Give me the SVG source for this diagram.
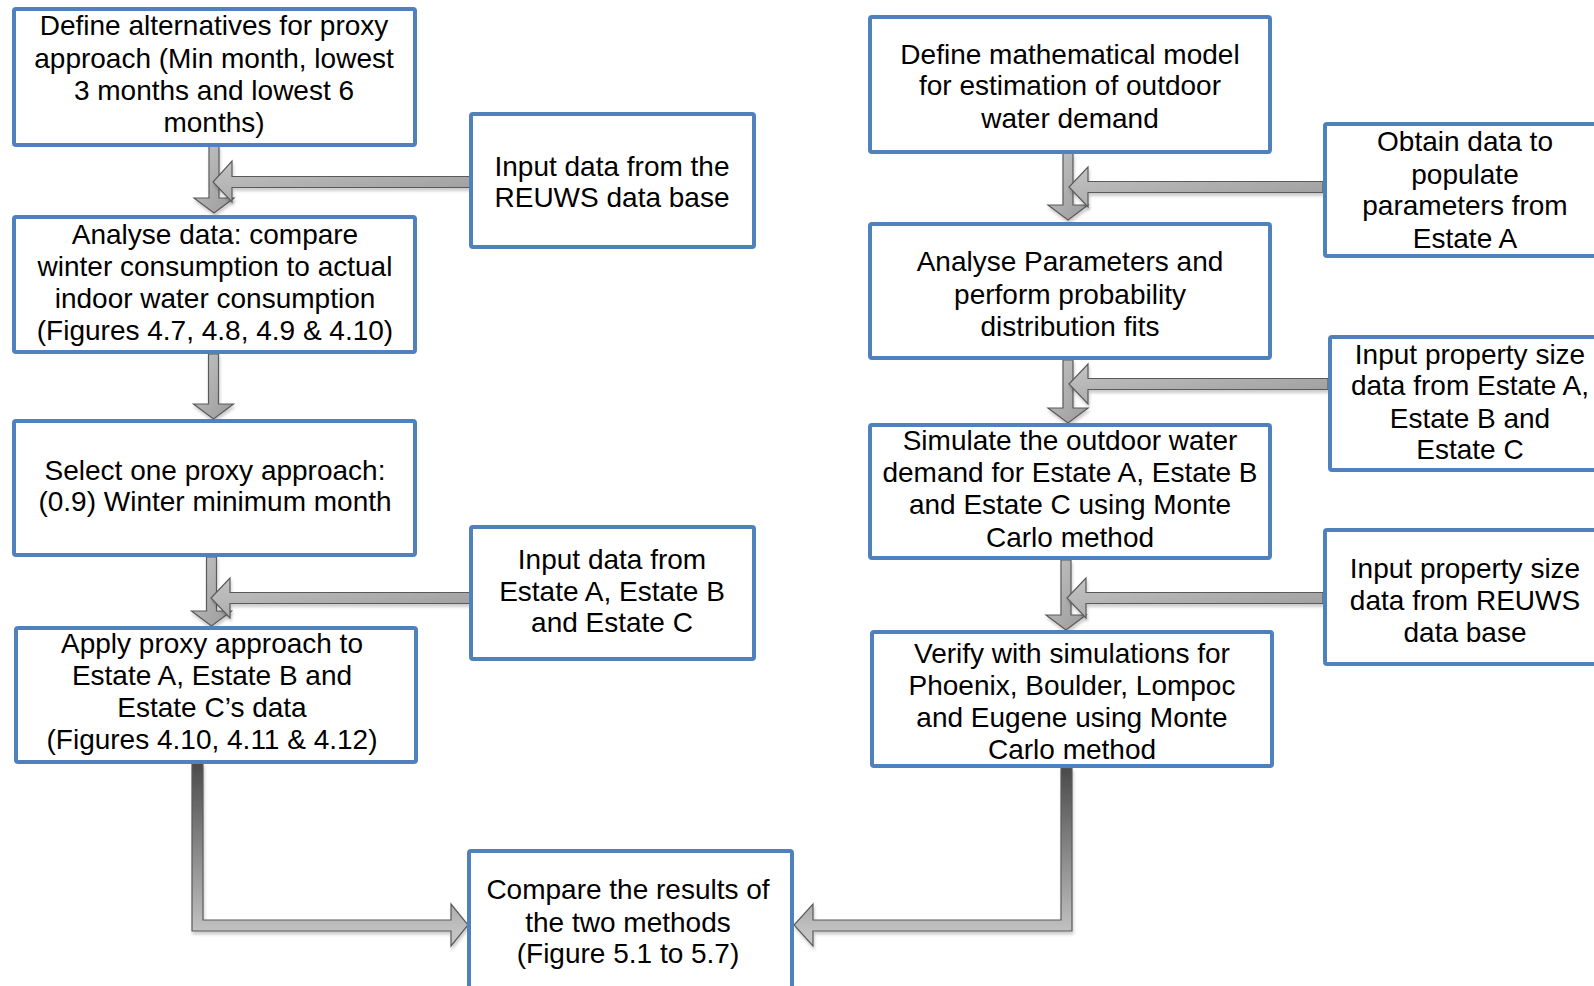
<svg xmlns="http://www.w3.org/2000/svg" width="1594" height="986" viewBox="0 0 1594 986">
<style>
.box{fill:#ffffff;stroke:#4f81bd;stroke-width:4}
.t{font-family:"Liberation Sans",Arial,sans-serif;font-size:28px;fill:#000;text-anchor:middle}
.arr{fill:url(#ga);stroke:#5a5a5a;stroke-width:1.2;stroke-linejoin:miter;filter:url(#sh)}
.bent{stroke:#5a5a5a;stroke-width:1.2;filter:url(#sh)}
</style>
<defs>
<linearGradient id="ga" x1="0" y1="0" x2="1" y2="1">
<stop offset="0" stop-color="#c4c4c4"/>
<stop offset="1" stop-color="#9a9a9a"/>
</linearGradient>
<linearGradient id="gb" gradientUnits="userSpaceOnUse" x1="0" y1="762" x2="0" y2="935">
<stop offset="0" stop-color="#4a4a4a"/>
<stop offset="1" stop-color="#c4c4c4"/>
</linearGradient>
<linearGradient id="gc" gradientUnits="userSpaceOnUse" x1="0" y1="768" x2="0" y2="935">
<stop offset="0" stop-color="#4a4a4a"/>
<stop offset="1" stop-color="#c4c4c4"/>
</linearGradient>
<filter id="sh" x="-20%" y="-20%" width="140%" height="140%">
<feDropShadow dx="1" dy="3" stdDeviation="1.5" flood-color="#000" flood-opacity="0.2"/>
</filter>
</defs>

<g id="connectors">
<polygon class="arr" points="209,146 219,146 219,198 234,198 214,213 194,198 209,198"/>
<polygon class="arr" points="470,176.5 232,176.5 232,161 213,182 232,202 232,187.5 470,187.5"/>
<polygon class="arr" points="208.5,354 218.5,354 218.5,404 233.5,404 213.5,419 193.5,404 208.5,404"/>
<polygon class="arr" points="206.5,557 216.5,557 216.5,611 231.5,611 211.5,626 191.5,611 206.5,611"/>
<polygon class="arr" points="470,592.5 230,592.5 230,578 211,598 230,618 230,603.5 470,603.5"/>
<polygon class="arr" points="1063,153 1073,153 1073,205 1088,205 1068,220 1048,205 1063,205"/>
<polygon class="arr" points="1323,181.5 1088,181.5 1088,167 1069,187 1088,207 1088,192.5 1323,192.5"/>
<polygon class="arr" points="1063,360 1073,360 1073,408 1088,408 1068,423 1048,408 1063,408"/>
<polygon class="arr" points="1328,378.5 1088,378.5 1088,364 1069,384 1088,404 1088,389.5 1328,389.5"/>
<polygon class="arr" points="1061,560 1071,560 1071,615 1086,615 1066,630 1046,615 1061,615"/>
<polygon class="arr" points="1323,592.5 1086,592.5 1086,578 1067,598 1086,618 1086,603.5 1323,603.5"/>
<polygon class="bent" fill="url(#gb)" points="192,763 203,763 203,920 451,920 451,904 468,925 451,946 451,931 192,931"/>
<polygon class="bent" fill="url(#gc)" points="1061,768 1072,768 1072,931 813,931 813,946 794,925 813,904 813,920 1061,920"/>
</g>

<g id="n1">
<rect class="box" x="14" y="9" width="401" height="136" rx="2"/>
<text class="t" x="214" y="35">Define alternatives for proxy</text>
<text class="t" x="214" y="68">approach (Min month, lowest</text>
<text class="t" x="214" y="100">3 months and lowest 6</text>
<text class="t" x="214" y="132">months)</text>
</g>
<g id="n2">
<rect class="box" x="471" y="114" width="283" height="133" rx="2"/>
<text class="t" x="612" y="176">Input data from the</text>
<text class="t" x="612" y="207">REUWS data base</text>
</g>
<g id="n3">
<rect class="box" x="14" y="217" width="401" height="135" rx="2"/>
<text class="t" x="215" y="244">Analyse data: compare</text>
<text class="t" x="215" y="276">winter consumption to actual</text>
<text class="t" x="215" y="308">indoor water consumption</text>
<text class="t" x="215" y="340">(Figures 4.7, 4.8, 4.9 &amp; 4.10)</text>
</g>
<g id="n4">
<rect class="box" x="14" y="421" width="401" height="134" rx="2"/>
<text class="t" x="215" y="480">Select one proxy approach:</text>
<text class="t" x="215" y="511">(0.9) Winter minimum month</text>
</g>
<g id="n5">
<rect class="box" x="471" y="527" width="283" height="132" rx="2"/>
<text class="t" x="612" y="569">Input data from</text>
<text class="t" x="612" y="601">Estate A, Estate B</text>
<text class="t" x="612" y="632">and Estate C</text>
</g>
<g id="n6">
<rect class="box" x="16" y="628" width="400" height="134" rx="2"/>
<text class="t" x="212" y="653">Apply proxy approach to</text>
<text class="t" x="212" y="685">Estate A, Estate B and</text>
<text class="t" x="212" y="717">Estate C’s data</text>
<text class="t" x="212" y="749">(Figures 4.10, 4.11 &amp; 4.12)</text>
</g>
<g id="n7">
<rect class="box" x="469" y="851" width="323" height="150" rx="2"/>
<text class="t" x="628" y="899">Compare the results of</text>
<text class="t" x="628" y="932">the two methods</text>
<text class="t" x="628" y="963">(Figure 5.1 to 5.7)</text>
</g>
<g id="n8">
<rect class="box" x="870" y="17" width="400" height="135" rx="2"/>
<text class="t" x="1070" y="64">Define mathematical model</text>
<text class="t" x="1070" y="95">for estimation of outdoor</text>
<text class="t" x="1070" y="128">water demand</text>
</g>
<g id="n9">
<rect class="box" x="1325" y="124" width="300" height="132" rx="2"/>
<text class="t" x="1465" y="151">Obtain data to</text>
<text class="t" x="1465" y="184">populate</text>
<text class="t" x="1465" y="215">parameters from</text>
<text class="t" x="1465" y="248">Estate A</text>
</g>
<g id="n10">
<rect class="box" x="870" y="224" width="400" height="134" rx="2"/>
<text class="t" x="1070" y="271">Analyse Parameters and</text>
<text class="t" x="1070" y="304">perform probability</text>
<text class="t" x="1070" y="336">distribution fits</text>
</g>
<g id="n11">
<rect class="box" x="1330" y="337" width="300" height="133" rx="2"/>
<text class="t" x="1470" y="364">Input property size</text>
<text class="t" x="1470" y="395">data from Estate A,</text>
<text class="t" x="1470" y="428">Estate B and</text>
<text class="t" x="1470" y="459">Estate C</text>
</g>
<g id="n12">
<rect class="box" x="870" y="425" width="400" height="133" rx="2"/>
<text class="t" x="1070" y="450">Simulate the outdoor water</text>
<text class="t" x="1070" y="482">demand for Estate A, Estate B</text>
<text class="t" x="1070" y="514">and Estate C using Monte</text>
<text class="t" x="1070" y="547">Carlo method</text>
</g>
<g id="n13">
<rect class="box" x="1325" y="530" width="300" height="134" rx="2"/>
<text class="t" x="1465" y="578">Input property size</text>
<text class="t" x="1465" y="610">data from REUWS</text>
<text class="t" x="1465" y="642">data base</text>
</g>
<g id="n14">
<rect class="box" x="872" y="632" width="400" height="134" rx="2"/>
<text class="t" x="1072" y="663">Verify with simulations for</text>
<text class="t" x="1072" y="695">Phoenix, Boulder, Lompoc</text>
<text class="t" x="1072" y="727">and Eugene using Monte</text>
<text class="t" x="1072" y="759">Carlo method</text>
</g>
</svg>
